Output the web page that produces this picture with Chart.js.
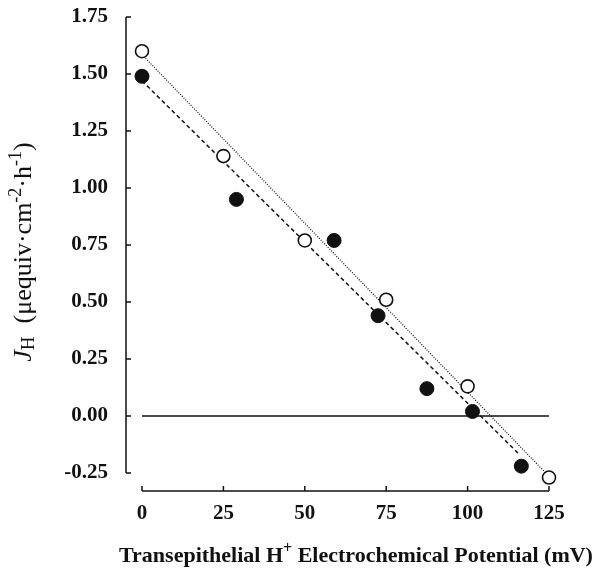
<!DOCTYPE html>
<html>
<head>
<meta charset="utf-8">
<script src="https://cdn.jsdelivr.net/npm/chart.js@4"></script>
<style>
  body { margin: 0; background: #fff; }
  canvas { display: block; }
</style>
</head>
<body>
<canvas id="chart" width="593" height="579"></canvas>
<script>
// open circles
const openX = [0, 25, 50, 75, 100, 125];
const openY = [1.60, 1.14, 0.77, 0.51, 0.13, -0.27];
// filled circles
const filledX = [0, 29, 59, 72.5, 87.5, 101.5, 116.5];
const filledY = [1.49, 0.95, 0.77, 0.44, 0.12, 0.02, -0.22];
// regression lines (end points)
const openFitX = [0, 125];
const openFitY = [1.585, -0.265];
const filledFitX = [0, 116];
const filledFitY = [1.47, -0.17];
// zero reference line
const zeroX = [0, 125];
const zeroY = [0, 0];

const xTicks = [0, 25, 50, 75, 100, 125];
const yTicks = [-0.25, 0, 0.25, 0.5, 0.75, 1.0, 1.25, 1.5, 1.75];

const ink = '#111';
const serif = '"Liberation Serif", "DejaVu Serif", serif';

const pts = (xs, ys) => xs.map((x, i) => ({ x: x, y: ys[i] }));

// draws a run of text pieces; each piece: [text, font, shiftY]
function drawRich(ctx, pieces, x, y, align) {
  let total = 0;
  pieces.forEach(p => { ctx.font = p[1]; total += ctx.measureText(p[0]).width; });
  let cx = align === 'center' ? x - total / 2 : x;
  ctx.textAlign = 'left';
  ctx.textBaseline = 'alphabetic';
  pieces.forEach(p => {
    ctx.font = p[1];
    ctx.fillText(p[0], cx, y + p[2]);
    cx += ctx.measureText(p[0]).width;
  });
}

const axesPlugin = {
  id: 'paperAxes',
  afterDraw(chart) {
    const ctx = chart.ctx;
    const xs = chart.scales.x, ys = chart.scales.y;
    const area = chart.chartArea;
    ctx.save();
    ctx.strokeStyle = ink;
    ctx.fillStyle = ink;
    ctx.lineWidth = 1.5;

    // y axis, offset to the left of the plot
    const ax = area.left - 16;
    ctx.beginPath();
    ctx.moveTo(ax, ys.getPixelForValue(yTicks[yTicks.length - 1]));
    ctx.lineTo(ax, ys.getPixelForValue(yTicks[0]));
    yTicks.forEach(v => {
      const py = ys.getPixelForValue(v);
      ctx.moveTo(ax, py);
      ctx.lineTo(ax + 5, py);
    });
    ctx.stroke();

    // x axis, offset below the plot
    const ay = area.bottom + 18;
    ctx.beginPath();
    ctx.moveTo(xs.getPixelForValue(xTicks[0]), ay);
    ctx.lineTo(xs.getPixelForValue(xTicks[xTicks.length - 1]), ay);
    xTicks.forEach(v => {
      const px = xs.getPixelForValue(v);
      ctx.moveTo(px, ay);
      ctx.lineTo(px, ay - 5);
    });
    ctx.stroke();

    // x title
    drawRich(ctx, [
      ['Transepithelial H', 'bold 22px ' + serif, 0],
      ['+', 'bold 16px ' + serif, -9],
      [' Electrochemical Potential (mV)', 'bold 22px ' + serif, 0]
    ], 356, 562, 'center');

    // y title, rotated
    ctx.translate(31, 252);
    ctx.rotate(-Math.PI / 2);
    drawRich(ctx, [
      ['J', 'italic 26px ' + serif, 0],
      ['H', '19px ' + serif, 3],
      ['  (\u03bcequiv\u00b7cm', '26px ' + serif, 0],
      ['-2', '18px ' + serif, -10],
      ['\u00b7h', '26px ' + serif, 0],
      ['-1', '18px ' + serif, -10],
      [')', '26px ' + serif, 0]
    ], 0, 0, 'center');
    ctx.restore();
  }
};

new Chart(document.getElementById('chart'), {
  type: 'scatter',
  data: {
    datasets: [
      {
        data: pts(openX, openY),
        backgroundColor: '#fff',
        borderColor: ink,
        borderWidth: 1.6,
        pointRadius: 6.5,
        order: 0,
        clip: false
      },
      {
        data: pts(filledX, filledY),
        backgroundColor: ink,
        borderColor: ink,
        borderWidth: 1,
        pointRadius: 7,
        order: 0,
        clip: false
      },
      {
        type: 'line',
        data: pts(openFitX, openFitY),
        borderColor: ink,
        borderWidth: 1.2,
        borderDash: [1, 1.5],
        pointRadius: 0,
        order: 1
      },
      {
        type: 'line',
        data: pts(filledFitX, filledFitY),
        borderColor: ink,
        borderWidth: 1.5,
        borderDash: [4, 3],
        pointRadius: 0,
        order: 1
      },
      {
        type: 'line',
        data: pts(zeroX, zeroY),
        borderColor: ink,
        borderWidth: 1.3,
        pointRadius: 0,
        order: 2
      }
    ]
  },
  options: {
    responsive: false,
    animation: false,
    layout: { padding: { top: 17, right: 44, left: 0, bottom: 0 } },
    plugins: { legend: { display: false }, tooltip: { enabled: false } },
    scales: {
      x: {
        type: 'linear',
        min: xTicks[0],
        max: xTicks[xTicks.length - 1],
        grid: { display: false, drawTicks: false },
        border: { display: false },
        ticks: {
          stepSize: 25,
          padding: 28,
          color: ink,
          font: { family: serif, size: 21, weight: 'bold' }
        },
        afterFit(scale) {
          scale.height = 106;
          scale.paddingLeft = 0;
          scale.paddingRight = 0;
        }
      },
      y: {
        type: 'linear',
        min: yTicks[0],
        max: yTicks[yTicks.length - 1],
        grid: { display: false, drawTicks: false },
        border: { display: false },
        ticks: {
          stepSize: 0.25,
          padding: 34,
          color: ink,
          font: { family: serif, size: 21, weight: 'bold' },
          callback: v => v.toFixed(2)
        },
        afterFit(scale) {
          scale.width = 142;
          scale.paddingTop = 0;
          scale.paddingBottom = 0;
        }
      }
    }
  },
  plugins: [axesPlugin]
});
</script>
</body>
</html>
